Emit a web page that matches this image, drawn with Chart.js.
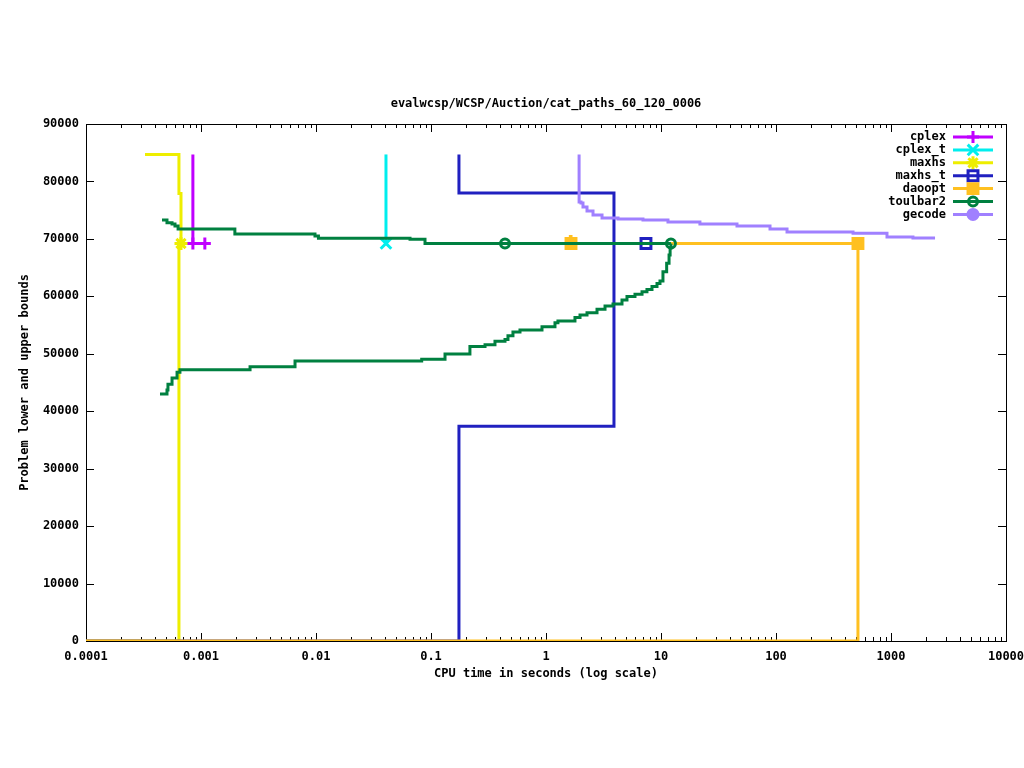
<!DOCTYPE html>
<html>
<head>
<meta charset="utf-8">
<script src="https://cdn.jsdelivr.net/npm/chart.js@4/dist/chart.umd.min.js"></script>
<style>
  html, body { margin: 0; padding: 0; background: #fff; }
  canvas { display: block; }
</style>
</head>
<body>
<canvas id="chart" width="1024" height="768"></canvas>
<script>
// axes
const xTickValues = [0.0001, 0.001, 0.01, 0.1, 1, 10, 100, 1000, 10000];
const xTickLabels = ['0.0001', '0.001', '0.01', '0.1', '1', '10', '100', '1000', '10000'];
const yTickStep = 10000;
const yMax = 90000;

// legend / series look
const seriesNames = ['cplex', 'cplex_t', 'maxhs', 'maxhs_t', 'daoopt', 'toulbar2', 'gecode'];
const seriesColors = ['#c000ff', '#00eeee', '#eeee00', '#2020c0', '#ffc020', '#008040', '#a080ff'];
const seriesMarkers = ['cross', 'crossRot', 'star', 'rect', 'rect', 'circle', 'circle'];
const seriesMarkerSize = [6, 7.5, 6.5, 7, 7, 4.5, 5];
const seriesMarkerFill = [false, false, false, false, true, false, true];

// cplex
const cplexTime = [0.00085, 0.00085, 0.00108];
const cplexBound = [84700, 69200, 69200];
const cplexMarks = [1, 2];

// cplex_t
const cplexTTime = [0.0406, 0.0406];
const cplexTBound = [84700, 69200];
const cplexTMarks = [1];

// maxhs
const maxhsUpperTime = [0.000326, 0.000643, 0.00067];
const maxhsUpper = [84700, 77900, 69200];
const maxhsLowerTime = [0.0001, 0.000643];
const maxhsLower = [0, 69200];
const maxhsMarks = [2];

// maxhs_t
const maxhsTUpperTime = [0.175, 0.175, 3.9, 7.4];
const maxhsTUpper = [84700, 78000, 69200, 69200];
const maxhsTLowerTime = [0.0001, 0.175, 3.9, 7.4];
const maxhsTLower = [0, 37400, 69200, 69200];
const maxhsTMarks = [3];

// daoopt
const daooptUpperTime = [1.58, 1.65, 516];
const daooptUpper = [70400, 69200, 69200];
const daooptLowerTime = [0.0001, 516];
const daooptLower = [0, 69200];
const daooptMarks = [1, 2];

// toulbar2
const toulbarUpperTime = [0.000458, 0.000506, 0.00056, 0.000594, 0.000632, 0.00197, 0.0098, 0.0105,
  0.0657, 0.0887, 0.44, 12.2];
const toulbarUpper = [73300, 72800, 72600, 72250, 71700, 70850, 70500, 70100,
  69950, 69200, 69200, 69200];
const toulbarLowerTime = [0.00044, 0.000506, 0.000516, 0.00056, 0.000619, 0.000656, 0.00267, 0.00657,
  0.083, 0.1324, 0.218, 0.295, 0.36, 0.44, 0.467, 0.516, 0.594, 0.923, 1.197, 1.27, 1.786, 1.976,
  2.273, 2.777, 3.26, 3.825, 4.58, 5.06, 5.94, 6.84, 7.55, 8.35, 9.23, 9.8, 10.4, 11.2, 11.75, 12.0, 12.2];
const toulbarLower = [43000, 43700, 44700, 45800, 46800, 47200, 47750, 48750,
  49050, 49950, 51250, 51550, 52200, 52500, 53150, 53800, 54150, 54700, 55400, 55700, 56300, 56750,
  57150, 57750, 58300, 58650, 59350, 59950, 60350, 60800, 61200, 61700, 62250, 62650, 64300, 65750, 67200, 68400, 69200];
const toulbarMarks = [10, 11];

// gecode
const gecodeTime = [1.94, 1.94, 2.015, 2.097, 2.273, 2.563, 3.07, 4.23, 6.97, 11.5, 21.8, 45.8,
  88.7, 124.7, 467.7, 923, 1552, 2415];
const gecodeBound = [84700, 76400, 76250, 75550, 74850, 74150, 73650, 73450, 73300, 72950, 72600, 72250,
  71700, 71200, 71000, 70350, 70150, 70150];
const gecodeMarks = [];

const FONT = 'bold 12px "DejaVu Sans Mono", monospace';

function makeLine(s, times, values, marks) {
  return {
    label: seriesNames[s],
    data: times.map((t, i) => ({ x: t, y: values[i] })),
    borderColor: seriesColors[s],
    borderWidth: 3,
    stepped: 'before',
    fill: false,
    pointStyle: seriesMarkers[s],
    pointRadius: (ctx) => marks.includes(ctx.dataIndex) ? seriesMarkerSize[s] : 0,
    pointBorderWidth: 3,
    pointBorderColor: seriesColors[s],
    pointBackgroundColor: seriesMarkerFill[s] ? seriesColors[s] : 'rgba(0,0,0,0)'
  };
}

const datasets = [
  makeLine(0, cplexTime, cplexBound, cplexMarks),
  makeLine(1, cplexTTime, cplexTBound, cplexTMarks),
  makeLine(2, maxhsLowerTime, maxhsLower, []),
  makeLine(2, maxhsUpperTime, maxhsUpper, maxhsMarks),
  makeLine(3, maxhsTLowerTime, maxhsTLower, []),
  makeLine(3, maxhsTUpperTime, maxhsTUpper, maxhsTMarks),
  makeLine(4, daooptLowerTime, daooptLower, []),
  makeLine(4, daooptUpperTime, daooptUpper, daooptMarks),
  makeLine(5, toulbarLowerTime, toulbarLower, []),
  makeLine(5, toulbarUpperTime, toulbarUpper, toulbarMarks),
  makeLine(6, gecodeTime, gecodeBound, gecodeMarks)
];
// gnuplot draws later plots on top
datasets.forEach((d, i) => { d.order = datasets.length - i; });

// box, tics, titles and key in gnuplot style
const gnuplotFrame = {
  id: 'gnuplotFrame',
  beforeDatasetsDraw(chart) {
    const { ctx, chartArea: a, scales: { x, y } } = chart;
    ctx.save();
    ctx.strokeStyle = '#000';
    ctx.lineWidth = 1;
    ctx.beginPath();
    for (let d = -4; d <= 4; d++) {
      for (let k = 1; k <= 9; k++) {
        const v = k * Math.pow(10, d);
        if (v > 10000) break;
        const px = Math.round(x.getPixelForValue(v)) + 0.5;
        const len = k === 1 ? 8 : 4;
        ctx.moveTo(px, a.bottom); ctx.lineTo(px, a.bottom - len);
        ctx.moveTo(px, a.top); ctx.lineTo(px, a.top + len);
      }
    }
    for (let v = 0; v <= yMax; v += yTickStep) {
      const py = Math.round(y.getPixelForValue(v)) + 0.5;
      ctx.moveTo(a.left, py); ctx.lineTo(a.left + 8, py);
      ctx.moveTo(a.right, py); ctx.lineTo(a.right - 8, py);
    }
    ctx.stroke();
    ctx.strokeRect(a.left + 0.5, a.top + 0.5, a.right - a.left, a.bottom - a.top);
    ctx.restore();
  },
  afterDraw(chart) {
    const { ctx, chartArea: a } = chart;
    const mid = (a.left + a.right) / 2;
    ctx.save();
    ctx.font = FONT;
    ctx.fillStyle = '#000';
    ctx.textAlign = 'center';
    ctx.textBaseline = 'middle';
    ctx.fillText('evalwcsp/WCSP/Auction/cat_paths_60_120_0006', mid, 104);
    ctx.fillText('CPU time in seconds (log scale)', mid, 674);
    ctx.save();
    ctx.translate(25, (a.top + a.bottom) / 2);
    ctx.rotate(-Math.PI / 2);
    ctx.fillText('Problem lower and upper bounds', 0, 0);
    ctx.restore();

    // key
    const helpers = Chart.helpers;
    seriesNames.forEach((name, i) => {
      const ky = 137 + i * 12.9;
      ctx.fillStyle = '#000';
      ctx.textAlign = 'right';
      ctx.fillText(name, 946, ky);
      ctx.strokeStyle = seriesColors[i];
      ctx.lineWidth = 3;
      ctx.beginPath();
      ctx.moveTo(953, ky);
      ctx.lineTo(993, ky);
      ctx.stroke();
      ctx.fillStyle = seriesMarkerFill[i] ? seriesColors[i] : 'rgba(0,0,0,0)';
      helpers.drawPoint(ctx, {
        pointStyle: seriesMarkers[i],
        radius: seriesMarkerSize[i],
        rotation: 0,
        borderWidth: 3
      }, 973, ky);
    });
    ctx.restore();
  }
};

const chart = new Chart(document.getElementById('chart').getContext('2d'), {
  type: 'line',
  data: { datasets: datasets },
  options: {
    responsive: false,
    animation: false,
    events: [],
    layout: { padding: { top: 124, right: 18, left: 0, bottom: 0 } },
    plugins: {
      legend: { display: false },
      title: { display: false },
      tooltip: { enabled: false }
    },
    elements: { line: { tension: 0 } },
    scales: {
      x: {
        type: 'logarithmic',
        position: 'bottom',
        min: 0.0001,
        max: 10000,
        grid: { display: false, drawTicks: false },
        border: { display: false },
        ticks: {
          color: '#000',
          font: { family: '"DejaVu Sans Mono", monospace', size: 12, weight: 'bold' },
          padding: 9,
          autoSkip: false,
          maxRotation: 0,
          callback: (value, index) => xTickLabels[index]
        },
        afterBuildTicks: (scale) => {
          scale.ticks = xTickValues.map((v) => ({ value: v }));
        },
        afterFit: (scale) => {
          scale.height = 127;
          scale.paddingLeft = 0;
          scale.paddingRight = 0;
        }
      },
      y: {
        type: 'linear',
        min: 0,
        max: yMax,
        grid: { display: false, drawTicks: false },
        border: { display: false },
        ticks: {
          color: '#000',
          font: { family: '"DejaVu Sans Mono", monospace', size: 12, weight: 'bold' },
          padding: 7,
          stepSize: yTickStep,
          callback: (value) => String(value)
        },
        afterFit: (scale) => {
          scale.width = 86;
        }
      }
    }
  },
  plugins: [gnuplotFrame]
});
</script>
</body>
</html>
